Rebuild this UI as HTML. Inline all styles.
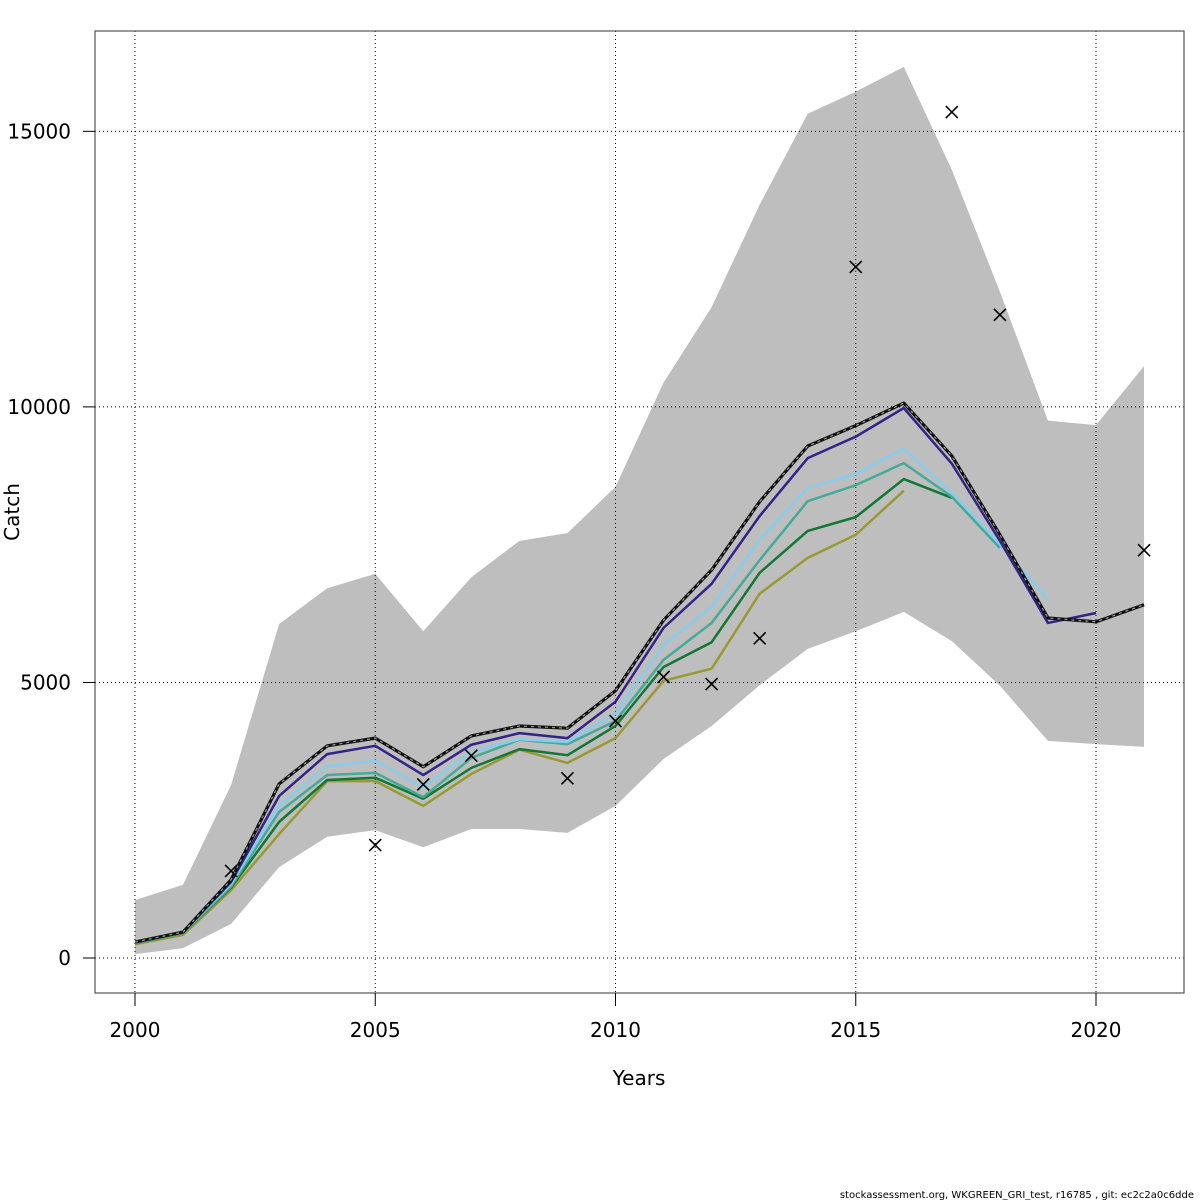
<!DOCTYPE html>
<html><head><meta charset="utf-8"><style>
html,body{margin:0;padding:0;background:#fff;width:1200px;height:1200px;overflow:hidden}
svg text{font-family:"DejaVu Sans","Liberation Sans",sans-serif;fill:#000}
</style></head><body>
<svg id="chart" width="1200" height="1200" xmlns="http://www.w3.org/2000/svg"></svg>
<script>
const years=[2000,2001,2002,2003,2004,2005,2006,2007,2008,2009,2010,2011,2012,2013,2014,2015,2016,2017,2018,2019,2020,2021];
const bandUpper=[1050,1330,3140,6060,6710,6970,5930,6910,7570,7710,8550,10440,11810,13670,15320,15720,16170,14300,12090,9750,9670,10740];
const bandLower=[70,180,620,1650,2200,2320,2010,2340,2340,2270,2760,3610,4210,4950,5610,5930,6280,5750,4940,3940,3880,3830];
const best=[290,470,1420,3160,3850,3990,3470,4030,4210,4170,4850,6130,7040,8280,9290,9660,10070,9110,7680,6170,6100,6410];
const peel1=[290,470,1380,2940,3700,3850,3320,3870,4080,3990,4650,5990,6790,8020,9070,9460,9980,8970,7570,6080,6260];
const peel2=[290,470,1340,2760,3480,3580,3100,3740,3970,3920,4430,5680,6370,7590,8530,8780,9240,8440,7510,6500];
const peel3=[270,450,1300,2650,3320,3360,2920,3630,3960,3880,4300,5410,6080,7220,8290,8580,8980,8370,7440];
const peel4=[270,450,1280,2470,3230,3270,2890,3450,3790,3680,4210,5280,5730,6990,7750,8000,8690,8350];
const peel5=[250,420,1230,2250,3210,3210,2760,3340,3780,3540,3990,5030,5250,6610,7260,7680,8480];
const obsYears=[2002,2005,2006,2007,2009,2010,2011,2012,2013,2015,2017,2018,2021];
const obsValues=[1580,2050,3150,3670,3260,4300,5100,4970,5800,12540,15350,11670,7400];
const xTicks=[2000,2005,2010,2015,2020];
const yTicks=[0,5000,10000,15000];

const X=y=>135+(y-2000)*48.05;
const Y=v=>958-v*0.05511;
const svg=document.getElementById('chart');
const NS='http://www.w3.org/2000/svg';
function mk(tag,attrs,parent){const e=document.createElementNS(NS,tag);for(const k in attrs)e.setAttribute(k,attrs[k]);(parent||svg).appendChild(e);return e;}

let pts=years.map((y,i)=>X(y)+','+Y(bandUpper[i]));
for(let i=years.length-1;i>=0;i--)pts.push(X(years[i])+','+Y(bandLower[i]));
const band=mk('polygon',{points:pts.join(' '),fill:'#bebebe',stroke:'none'});



xTicks.forEach(t=>{const g=mk('line',{x1:X(t),x2:X(t),y1:31,y2:993,stroke:'#000','stroke-width':1,'stroke-dasharray':'1,3'});

});
yTicks.forEach(t=>{const g=mk('line',{x1:95,x2:1184,y1:Y(t),y2:Y(t),stroke:'#000','stroke-width':1,'stroke-dasharray':'1,3'});

});

function line(vals,color,name){
  const p=vals.map((v,i)=>X(years[i])+','+Y(v)).join(' ');
  const l=mk('polyline',{points:p,fill:'none',stroke:color,'stroke-width':2.5,'stroke-linejoin':'round'});
  
  
}
line(peel5,'#999933','retro-peel-5');
line(peel4,'#117733','retro-peel-4');
line(peel3,'#44AA99','retro-peel-3');
line(peel2,'#88CCEE','retro-peel-2');
line(peel1,'#332288','retro-peel-1');
const bp=best.map((v,i)=>X(years[i])+','+Y(v)).join(' ');
const b1=mk('polyline',{points:bp,fill:'none',stroke:'#111','stroke-width':3.2,'stroke-linejoin':'round'});


const b2=mk('polyline',{points:bp,fill:'none',stroke:'#999','stroke-width':1.2,'stroke-dasharray':'3,4'});



obsYears.forEach((y,i)=>{const cx=X(y),cy=Y(obsValues[i]),s=6;
const g=mk('path',{d:`M${cx-s},${cy-s}L${cx+s},${cy+s}M${cx-s},${cy+s}L${cx+s},${cy-s}`,stroke:'#000','stroke-width':1.6,fill:'none'});

});

const box=mk('rect',{x:95,y:31,width:1089,height:962,fill:'none',stroke:'#555','stroke-width':1.2});



xTicks.forEach(t=>{const tk=mk('line',{x1:X(t),x2:X(t),y1:993,y2:1006,stroke:'#000'});


const tx=mk('text',{x:X(t),y:1037,'text-anchor':'middle','font-size':20});tx.textContent=t;

});
yTicks.forEach(t=>{const tk=mk('line',{x1:83,x2:95,y1:Y(t),y2:Y(t),stroke:'#000'});


const tx=mk('text',{x:71,y:Y(t)+7,'text-anchor':'end','font-size':20});tx.textContent=t;

});

const xt=mk('text',{x:639,y:1085,'text-anchor':'middle','font-size':20});xt.textContent='Years';


const yt=mk('text',{x:19,y:512,'text-anchor':'middle','font-size':20,transform:'rotate(-90 19 512)'});yt.textContent='Catch';


const ft=mk('text',{x:1194,y:1198,'text-anchor':'end','font-size':10});ft.textContent='stockassessment.org, WKGREEN_GRI_test, r16785 , git: ec2c2a0c6dde';


</script>
</body></html>
